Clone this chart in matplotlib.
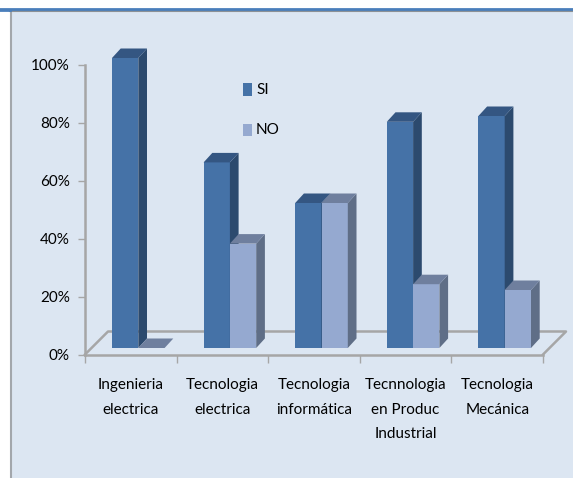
import matplotlib
matplotlib.use('Agg')
import matplotlib.pyplot as plt
from matplotlib.lines import Line2D
from matplotlib.patches import Polygon, Rectangle

categories = ['Ingenieria\nelectrica', 'Tecnologia\nelectrica', 'Tecnologia\ninformática',
              'Tecnnologia\nen Produc\nIndustrial', 'Tecnologia\nMecánica']
si_values = [100, 64, 50, 78, 80]
no_values = [0, 36, 50, 22, 20]
y_ticks = [0, 20, 40, 60, 80, 100]
y_labels = ['0%', '20%', '40%', '60%', '80%', '100%']

W, H = 573, 478
PX_X = 91.6     # pixels per category
PX_Y = 2.9      # pixels per percent
FONT_SIZE = 11

plt.rcParams['font.family'] = 'Lato'

fig = plt.figure(figsize=(W / 100, H / 100), dpi=100, facecolor='white')

# panel behind the chart
fig.add_artist(Rectangle((10 / W, 0), 1, 1 - 11 / H, transform=fig.transFigure,
                         facecolor='#DCE6F2', edgecolor='none', zorder=-2))
fig.add_artist(Line2D([10.5 / W, 10.5 / W], [0, 1 - 11 / H], color='#A3A7AC', lw=1.5, zorder=-1))
fig.add_artist(Line2D([10 / W, 1], [1 - 11 / H, 1 - 11 / H], color='#8C9196', lw=1.5, zorder=-1))
fig.add_artist(Line2D([0, 1], [1 - 9 / H, 1 - 9 / H], color='#4A7EBB', lw=2, zorder=-1))
fig.add_artist(Line2D([0, 10 / W], [1 - 10 / H, 1 - 10 / H], color='#4A7EBB', lw=2, zorder=-1))

ax = fig.add_axes([85 / W, 1 - 354.5 / H, 458 / W, 290 / H])
ax.set_xlim(0, 5)
ax.set_ylim(0, 100)
ax.patch.set_visible(False)


def dx(px):
    return px / PX_X


def dy(px):
    return px / PX_Y


def bar3d(left, width, value, front, side, top):
    base = dy(6.5)
    d_x, d_y = dx(8.7), dy(9.5)
    right = left + width
    if value > 0:
        ax.add_patch(Polygon([(left, base), (right, base), (right, base + value), (left, base + value)],
                             facecolor=front, edgecolor='none', clip_on=False, zorder=3))
        ax.add_patch(Polygon([(right, base), (right + d_x, base + d_y), (right + d_x, base + value + d_y),
                              (right, base + value)],
                             facecolor=side, edgecolor='none', clip_on=False, zorder=3))
    ax.add_patch(Polygon([(left, base + value), (right, base + value), (right + d_x, base + value + d_y),
                          (left + d_x, base + value + d_y)],
                         facecolor=top, edgecolor='none', clip_on=False, zorder=3))


# floor
floor_x, floor_y = dx(23), dy(23)
ax.plot([0, floor_x, 5 + floor_x, 5], [0, floor_y, floor_y, 0], color='#A6A6A6', lw=1.8,
        clip_on=False, zorder=1)

bar_w = dx(26.3)
for i in range(len(categories)):
    left = i + dx(27)
    bar3d(left, bar_w, si_values[i], '#4572A7', '#2C4A6E', '#345682')
    bar3d(left + bar_w, bar_w, no_values[i], '#95A9D0', '#5F6E87', '#6F7F9E')

for name in ['top', 'right']:
    ax.spines[name].set_visible(False)
for name in ['left', 'bottom']:
    ax.spines[name].set_color('#A6A6A6')
    ax.spines[name].set_linewidth(1.8)

ax.set_yticks(y_ticks)
ax.set_yticklabels(y_labels, fontsize=FONT_SIZE, color='black')
ax.set_xticks(range(6))
ax.set_xticklabels([])
ax.tick_params(axis='y', length=5, width=1, color='#A6A6A6', pad=6)
ax.tick_params(axis='x', length=6, width=1, color='#A6A6A6')
for i, name in enumerate(categories):
    ax.text(i + 0.5, dy(-24), name, ha='center', va='top', fontsize=FONT_SIZE,
            linespacing=1.95, clip_on=False)

# legend
for value_px, color, label in [(90, '#4572A7', 'SI'), (130, '#95A9D0', 'NO')]:
    fig.add_artist(Rectangle((243 / W, 1 - (value_px + 6) / H), 9 / W, 12.5 / H, transform=fig.transFigure,
                             facecolor=color, edgecolor='none'))
    fig.text(256 / W, 1 - value_px / H, label, fontsize=FONT_SIZE, va='center', ha='left')

fig.savefig('out.png', dpi=100)
